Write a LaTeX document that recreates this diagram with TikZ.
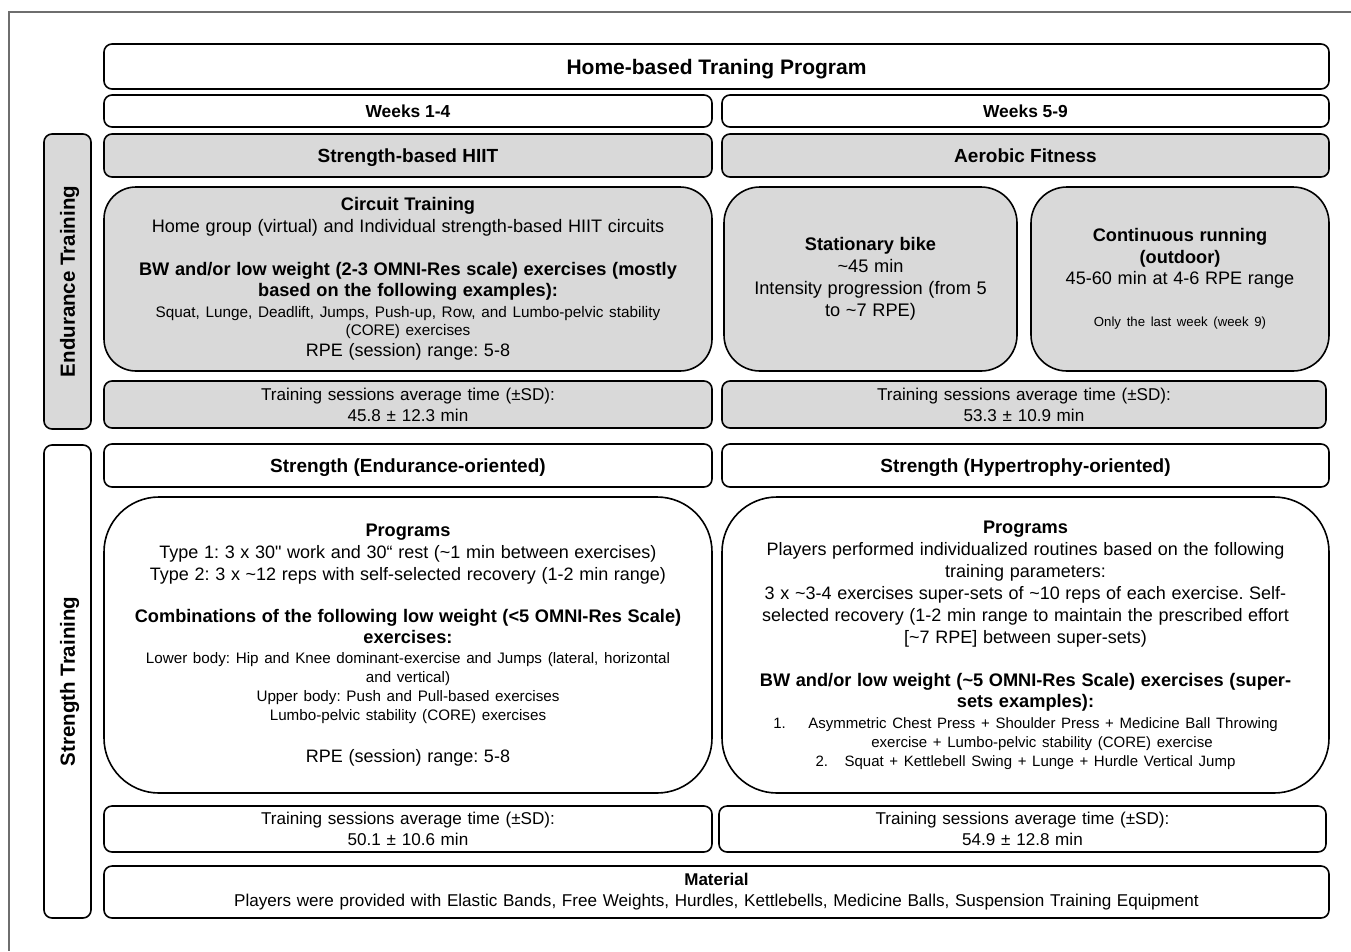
\documentclass[tikz,border=0pt]{standalone}
\usepackage{fontspec}
\setmainfont{Liberation Sans}[Ligatures=TeXOff]
\frenchspacing
\newcommand{\tld}{\textasciitilde}
\newcommand{\fsz}[2]{\fontsize{#1}{#2}\selectfont}
\definecolor{boxgray}{RGB}{217,217,217}
\definecolor{framegray}{RGB}{110,110,110}
\begin{document}
\begin{tikzpicture}[x=1pt,y=-1pt,
  box/.style={draw=black, line width=1.6pt, rounded corners=8pt, align=center, inner sep=0pt, font=\fsz{17}{21}},
  gbox/.style={box, fill=boxgray},
  oneline/.style={text depth=0pt},
  head/.style={oneline, font=\fsz{19}{23}\bfseries},
  side/.style={box, oneline, rotate=90, minimum height=47pt, font=\fsz{20.5}{24}\bfseries},
  frame/.style={draw=framegray, line width=1.4pt}]
\useasboundingbox (0,0) rectangle (1351,951);
\draw[frame] (1351,12) -- (9,12) -- (9,951);

% header rows
\node[box, oneline, minimum width=1225pt, minimum height=45pt, font=\fsz{21}{25}\bfseries] (title) at (716.5,66.5) {Home-based Traning Program};
\node[box, oneline, minimum width=608pt, minimum height=32pt, font=\fsz{17.4}{21}\bfseries] (w14) at (408,111) {Weeks 1-4};
\node[box, oneline, minimum width=607pt, minimum height=32pt, font=\fsz{17.4}{21}\bfseries] (w59) at (1025.5,111) {Weeks 5-9};

% endurance section
\node[side, minimum width=295pt, fill=boxgray] (endside) at (67.5,281.5) {Endurance Training};
\node[gbox, head, minimum width=608pt, minimum height=43pt] (hiit) at (408,155.5) {Strength-based HIIT};
\node[gbox, head, minimum width=607pt, minimum height=43pt] (aero) at (1025.5,155.5) {Aerobic Fitness};

\node[gbox, rounded corners=32pt, text width=608pt, minimum height=184pt] (circuit) at (408,279) {%
{\fsz{18.2}{21}\bfseries Circuit Training\par}
{\fsz{18.1}{22}Home group (virtual) and Individual strength-based HIIT circuits\par}
\vspace{22pt}
{\fsz{18.2}{21}\bfseries BW and/or low weight (2-3 OMNI-Res scale) exercises (mostly\\ based on the following examples):\par}
\vspace{3pt}
{\fsz{15.3}{18}Squat, Lunge, Deadlift, Jumps, Push-up, Row, and Lumbo-pelvic stability\\ (CORE) exercises\par}
{\fsz{18}{21}RPE (session) range: 5-8\par}};

\node[gbox, rounded corners=36pt, text width=293pt, minimum height=184pt] (bike) at (870.5,279) {%
{\fsz{18.2}{22}\bfseries Stationary bike\par}
{\fsz{18.2}{22}\tld 45 min\\ Intensity progression (from 5\\ to \tld 7 RPE)\par}};

\node[gbox, rounded corners=36pt, text width=298pt, minimum height=184pt] (run) at (1180,279) {%
{\fsz{18.2}{22}\bfseries Continuous running\\ (outdoor)\par}
{\fsz{18.1}{21}45-60 min at 4-6 RPE range\par}
\vspace{26pt}
{\fsz{13.2}{16}Only the last week (week 9)\par}};

\node[gbox, text width=608pt, minimum height=47pt, font=\fsz{17.1}{21}] (avg1) at (408,404.5) {Training sessions average time (±SD):\\ 45.8 ± 12.3 min};
\node[gbox, text width=604pt, minimum height=47pt, font=\fsz{17.1}{21}] (avg2) at (1024,404.5) {Training sessions average time (±SD):\\ 53.3 ± 10.9 min};

% strength section
\node[side, minimum width=473pt, fill=white] (strside) at (67.5,681.5) {Strength Training};
\node[box, head, minimum width=608pt, minimum height=43pt] (send) at (408,465.5) {Strength (Endurance-oriented)};
\node[box, head, minimum width=607pt, minimum height=43pt] (shyp) at (1025.5,465.5) {Strength (Hypertrophy-oriented)};

\node[box, rounded corners=55pt, text width=608pt, minimum height=296pt] (prog1) at (408,645) {%
{\fsz{18.2}{21}\bfseries Programs\par}
{\fsz{18}{22}Type 1: 3 x 30" work and 30“ rest (\tld 1 min between exercises)\\ Type 2: 3 x \tld 12 reps with self-selected recovery (1-2 min range)\par}
\vspace{21pt}
{\fsz{18.2}{21}\bfseries Combinations of the following low weight (<5 OMNI-Res Scale)\\ exercises:\par}
\vspace{1pt}
{\fsz{15.2}{19}Lower body: Hip and Knee dominant-exercise and Jumps (lateral, horizontal\\ and vertical)\\ Upper body: Push and Pull-based exercises\\ Lumbo-pelvic stability (CORE) exercises\par}
\vspace{21pt}
{\fsz{18}{21}RPE (session) range: 5-8\par}};

\node[box, rounded corners=55pt, text width=607pt, minimum height=296pt] (prog2) at (1025.5,645) {%
{\fsz{18.2}{21}\bfseries Programs\par}
{\fsz{18}{22}Players performed individualized routines based on the following\\ training parameters:\\ 3 x \tld 3-4 exercises super-sets of \tld 10 reps of each exercise. Self-\\ selected recovery (1-2 min range to maintain the prescribed effort\\ {[}\tld 7 RPE{]} between super-sets)\par}
\vspace{22pt}
{\fsz{18.2}{21}\bfseries BW and/or low weight (\tld 5 OMNI-Res Scale) exercises (super-\\ sets examples):\par}
\vspace{2pt}
{\fsz{15}{19}1.\hspace{1.5em}Asymmetric Chest Press + Shoulder Press + Medicine Ball Throwing\\ \hspace*{2.2em}exercise + Lumbo-pelvic stability (CORE) exercise\\ 2.\hspace{1.1em}Squat + Kettlebell Swing + Lunge + Hurdle Vertical Jump\par}};

\node[box, text width=608pt, minimum height=46pt, font=\fsz{17.1}{21}] (avg3) at (408,829) {Training sessions average time (±SD):\\ 50.1 ± 10.6 min};
\node[box, text width=607pt, minimum height=46pt, font=\fsz{17.1}{21}] (avg4) at (1022.5,829) {Training sessions average time (±SD):\\ 54.9 ± 12.8 min};

\node[box, text width=1225pt, minimum height=52pt, font=\fsz{17.1}{21}] (material) at (716.5,892) {{\bfseries\fsz{17}{21}Material}\\ Players were provided with Elastic Bands, Free Weights, Hurdles, Kettlebells, Medicine Balls, Suspension Training Equipment};
\end{tikzpicture}
\end{document}
